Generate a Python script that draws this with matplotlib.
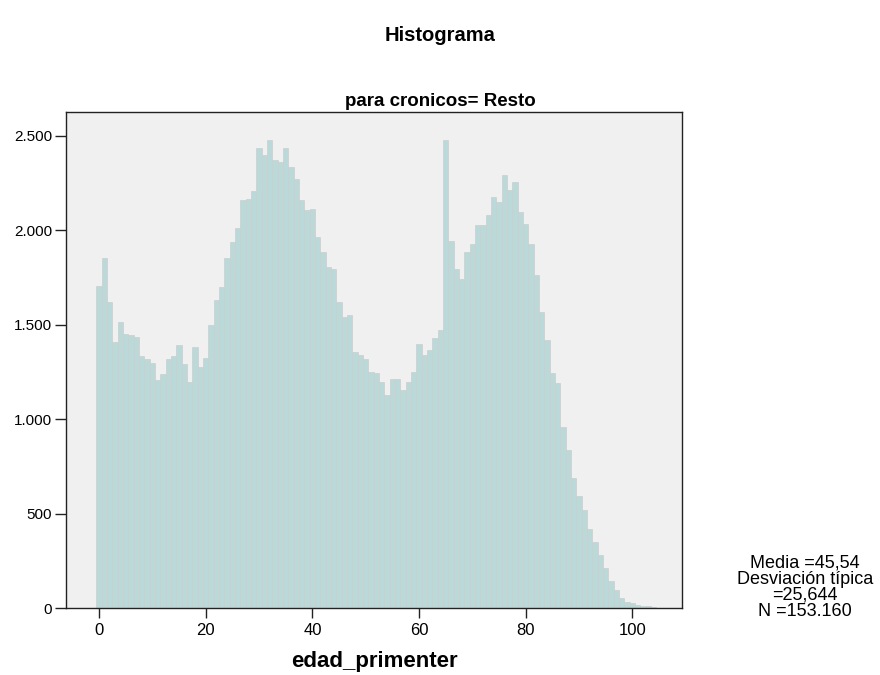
import matplotlib
matplotlib.use("Agg")
import matplotlib.pyplot as plt
from matplotlib import font_manager

# ---- data (one bar per year of age) ----
edad = list(range(0, 105))
frecuencia = [
    1703, 1855, 1620, 1410, 1515, 1453, 1445, 1435, 1333, 1321,   # 0-9
    1298, 1207, 1238, 1316, 1335, 1395, 1291, 1198, 1383, 1277,   # 10-19
    1322, 1498, 1629, 1700, 1855, 1940, 2010, 2160, 2163, 2205,   # 20-29
    2434, 2396, 2475, 2369, 2360, 2434, 2334, 2272, 2158, 2105,   # 30-39
    2114, 1964, 1885, 1805, 1797, 1620, 1541, 1550, 1356, 1339,   # 40-49
    1321, 1250, 1242, 1198, 1127, 1215, 1215, 1154, 1198, 1250,   # 50-59
    1397, 1339, 1365, 1427, 1471, 2475, 1941, 1797, 1744, 1885,   # 60-69
    1929, 2026, 2026, 2079, 2175, 2150, 2290, 2211, 2255, 2096,   # 70-79
    2034, 1929, 1761, 1568, 1418, 1242, 1189, 960, 837, 688,      # 80-89
    591, 520, 420, 350, 280, 210, 145, 95, 55, 35,                # 90-99
    25, 18, 14, 10, 8,                                            # 100-104
]
xticks = [0, 20, 40, 60, 80, 100]
yticks = [0, 500, 1000, 1500, 2000, 2500]
ytick_labels = ["0", "500", "1.000", "1.500", "2.000", "2.500"]
stats_text = "Media =45,54\nDesviación típica\n=25,644\nN =153.160"

BAR, EDGE, PANEL = "#bcd9d9", "#cbcece", "#f0f0f0"

names = {f.name for f in font_manager.fontManager.ttflist}
NARROW = "Liberation Sans Narrow" if "Liberation Sans Narrow" in names else "Liberation Sans"
plt.rcParams["font.family"] = ["Liberation Sans", "DejaVu Sans"]

fig = plt.figure(figsize=(8.8, 6.75), dpi=100)
ax = fig.add_axes([0.075, 0.099, 0.700, 0.735])
ax.set_facecolor(PANEL)

ax.bar(edad, frecuencia, width=1.0, color=BAR, edgecolor=EDGE, lw=0.5, zorder=2)

ax.set_xlim(-6.2, 109.3)
ax.set_ylim(0, 2625)
ax.set_xticks(xticks)
ax.set_xticklabels([str(t) for t in xticks], fontsize=12, family=NARROW)
ax.set_yticks(yticks)
ax.set_yticklabels(ytick_labels, fontsize=11)
ax.tick_params(axis="x", length=7, width=1, color="#222222", pad=4)
ax.tick_params(axis="y", length=8, width=1, color="#222222", pad=2)
for sp in ax.spines.values():
    sp.set_color("#222222")
    sp.set_linewidth(1.0)

ax.set_xlabel("edad_primenter", fontsize=16, fontweight="bold", labelpad=9)

fig.text(0.5, 0.948, "Histograma", ha="center", va="center",
         fontsize=14.5, fontweight="bold")
fig.text(0.5, 0.837, "para cronicos= Resto", ha="center", va="bottom",
         fontsize=13.5, fontweight="bold")
fig.text(0.915, 0.130, stats_text, ha="center", va="center", fontsize=13,
         family=NARROW, linespacing=0.95)

fig.savefig("out.png", dpi=100)
